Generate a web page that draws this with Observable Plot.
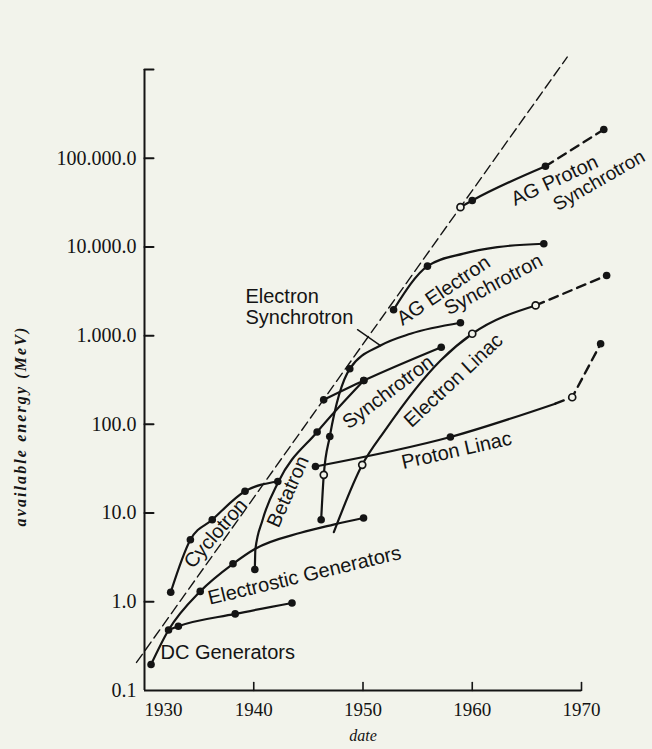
<!DOCTYPE html>
<html><head><meta charset="utf-8">
<script src="https://cdn.jsdelivr.net/npm/d3@7"></script>
<script src="https://cdn.jsdelivr.net/npm/@observablehq/plot@0.6"></script>
<style>
html,body{margin:0;padding:0;background:#f2f3eb;}
</style></head><body><div id="chart"></div>
<script>
// ---- axis ticks ----
const yTickValues = [0.1, 1, 10, 100, 1000, 10000, 100000];
const yTickLabels = ["0.1", "1.0", "10.0", "100.0", "1.000.0", "10.000.0", "100.000.0"];
const xTickValues = [1930, 1940, 1950, 1960, 1970];
const xTickLabels = ["1930", "1940", "1950", "1960", "1970"];

// ---- series (year, MeV, marker) ----
const dcYears = [1932.2, 1933.1, 1938.3, 1943.5];
const dcValues = [0.48, 0.53, 0.73, 0.97];
const dcMarks = ["", "dot", "dot", "dot"];

const esYears = [1930.6, 1932.2, 1935.1, 1938.1, 1940.1, 1944.3, 1947.3, 1950.05];
const esValues = [0.196, 0.48, 1.31, 2.68, 3.94, 6.0, 7.4, 8.8];
const esMarks = ["dot", "dot", "dot", "dot", "", "", "", "dot"];

const cycYears = [1932.4, 1934.2, 1936.2, 1939.2, 1942.2];
const cycValues = [1.28, 5.0, 8.4, 17.6, 22.7];
const cycMarks = ["dot", "dot", "dot", "dot", "dot"];

const betYears = [1940.1, 1940.15, 1940.8, 1942.25, 1945.8, 1950.07];
const betValues = [2.31, 3.9, 8.3, 22.4, 82, 312];
const betMarks = ["dot", "", "", "", "dot", "dot"];

const synYears = [1946.4, 1950.07, 1957.16];
const synValues = [189, 312, 741];
const synMarks = ["dot", "dot", "dot"];

const esyYears = [1946.17, 1946.41, 1946.96, 1948.79, 1951.6, 1954.35, 1958.92];
const esyValues = [8.4, 27, 73, 423, 774, 1050, 1396];
const esyMarks = ["dot", "open", "dot", "dot", "", "", "dot"];

const plYears = [1945.65, 1958.0, 1967.6];
const plValues = [33.5, 72, 171];
const plMarks = ["dot", "dot", ""];
const plDashYears = [1967.6, 1969.15, 1971.75];
const plDashValues = [171, 202, 809];
const plDashMarks = ["", "open", "dot"];

const elYears = [1947.33, 1949.93, 1952.0, 1957.1, 1960.0, 1965.8];
const elValues = [6.1, 35, 85, 525, 1050, 2190];
const elMarks = ["", "open", "", "", "open", "open"];
const elDashYears = [1965.8, 1972.3];
const elDashValues = [2190, 4770];
const elDashMarks = ["", "dot"];

const ageYears = [1952.8, 1955.9, 1959.2, 1962.3, 1966.55];
const ageValues = [1960, 6070, 8400, 9940, 10860];
const ageMarks = ["dot", "dot", "", "", "dot"];

const agpYears = [1958.92, 1960.0, 1966.7];
const agpValues = [28060, 33400, 81300];
const agpMarks = ["open", "dot", "dot"];
const agpDashYears = [1966.7, 1972.04];
const agpDashValues = [81300, 210800];
const agpDashMarks = ["", "dot"];

const trendYears = [1929.27, 1968.69];
const trendValues = [0.207, 1.38e6];

// ---- annotations ----
const labelTexts = ["Electrostic Generators", "Cyclotron", "Betatron", "Synchrotron",
  "AG Electron", "Synchrotron", "AG Proton", "Synchrotron", "Electron Linac", "Proton Linac"];
const labelYears = [1944.65, 1936.5, 1943.14, 1952.29, 1957.37, 1961.94, 1967.53, 1971.6, 1958.28, 1958.56];
const labelValues = [1.98, 5.89, 17.5, 230.6, 3228, 3774, 56100, 56100, 312.5, 50.8];
const labelAngles = [-13.5, -49, -66, -37, -34, -28, -25, -30, -43, -12.7];
const labelSizes = [20, 20, 20, 20, 20, 20, 20, 19, 20, 20];

const flatLabelTexts = ["DC Generators", "Electron\nSynchrotron"];
const flatLabelYears = [1931.46, 1939.24];
const flatLabelValues = [0.268, 2104];

const leaderYears = [1949.5, 1951.6];
const leaderValues = [1169, 771];

// ---- build tables ----
function rows(name, years, values, marks) {
  return years.map((year, i) => ({series: name, year, value: values[i], marker: marks[i]}));
}
const solid = [
  ...rows("dc", dcYears, dcValues, dcMarks),
  ...rows("es", esYears, esValues, esMarks),
  ...rows("cyc", cycYears, cycValues, cycMarks),
  ...rows("bet", betYears, betValues, betMarks),
  ...rows("syn", synYears, synValues, synMarks),
  ...rows("esy", esyYears, esyValues, esyMarks),
  ...rows("pl", plYears, plValues, plMarks),
  ...rows("el", elYears, elValues, elMarks),
  ...rows("age", ageYears, ageValues, ageMarks),
  ...rows("agp", agpYears, agpValues, agpMarks)
];
const dashed = [
  ...rows("pld", plDashYears, plDashValues, plDashMarks),
  ...rows("eld", elDashYears, elDashValues, elDashMarks),
  ...rows("agpd", agpDashYears, agpDashValues, agpDashMarks)
];
const allPts = [...solid, ...dashed];
const trend = trendYears.map((year, i) => ({year, value: trendValues[i]}));
const labels = labelTexts.map((t, i) => ({t, year: labelYears[i], value: labelValues[i], a: labelAngles[i], s: labelSizes[i]}));
const flatLabels = flatLabelTexts.map((t, i) => ({t, year: flatLabelYears[i], value: flatLabelValues[i]}));
const leader = leaderYears.map((year, i) => ({year, value: leaderValues[i]}));

const ink = "#141414";
const bg = "#f2f3eb";
const serif = "'Liberation Serif', 'Times New Roman', serif";
const sans = "'Liberation Sans', Arial, sans-serif";
const tickShape = {draw(context, l) { context.moveTo(0, 0); context.lineTo(0, -l); }};

const chart = Plot.plot({
  width: 652, height: 749,
  marginLeft: 144, marginRight: 71, marginTop: 69, marginBottom: 59,
  x: {domain: [1930, 1970], axis: null},
  y: {type: "log", domain: [0.1, 1e6], axis: null},
  style: {background: bg, color: ink, fontFamily: serif, overflow: "visible"},
  marks: [
    Plot.line(trend, {x: "year", y: "value", stroke: ink, strokeWidth: 1.4, strokeDasharray: "10,5"}),
    Plot.ruleX([1930], {y1: 0.1, y2: 1e6, stroke: ink, strokeWidth: 2}),
    Plot.ruleY([0.1], {x1: 1930, x2: 1970, stroke: ink, strokeWidth: 2}),
    Plot.vector(yTickValues.filter(v => v > 0.1).concat([1e6]), {x: 1930, y: d => d, length: 9, rotate: 90, anchor: "start", shape: tickShape, stroke: ink, strokeWidth: 2}),
    Plot.vector(xTickValues.slice(1), {x: d => d, y: 0.1, length: 8, rotate: 0, anchor: "start", shape: tickShape, stroke: ink, strokeWidth: 1.6}),
    Plot.line(solid, {x: "year", y: "value", z: "series", curve: "monotone-x", stroke: ink, strokeWidth: 2.2}),
    Plot.line(dashed, {x: "year", y: "value", z: "series", stroke: ink, strokeWidth: 2.4, strokeDasharray: "9,6"}),
    Plot.line(leader, {x: "year", y: "value", stroke: ink, strokeWidth: 1.4}),
    Plot.dot(allPts.filter(d => d.marker === "dot"), {x: "year", y: "value", r: 3.8, fill: ink}),
    Plot.dot(allPts.filter(d => d.marker === "open"), {x: "year", y: "value", r: 3.5, fill: bg, stroke: ink, strokeWidth: 1.7}),
    Plot.text(labels, {x: "year", y: "value", text: "t", rotate: "a", fontSize: "s", fontFamily: sans, fill: ink}),
    Plot.text(flatLabels, {x: "year", y: "value", text: "t", textAnchor: "start", lineHeight: 1.05, fontSize: 20, fontFamily: sans, fill: ink}),
    Plot.text(yTickValues, {x: 1930, y: d => d, text: (d, i) => yTickLabels[i], textAnchor: "end", dx: -8, fontSize: 20, fontFamily: serif, fill: ink}),
    Plot.text(xTickValues.slice(1), {x: d => d, y: 0.1, text: (d, i) => xTickLabels[i + 1], dy: 19, fontSize: 19, fontFamily: serif, fill: ink}),
    Plot.text(xTickValues.slice(0, 1), {x: d => d, y: 0.1, text: (d, i) => xTickLabels[i], dy: 19, dx: 19, fontSize: 19, fontFamily: serif, fill: ink}),
    Plot.text(["date"], {frameAnchor: "bottom", textAnchor: "middle", dy: 50, fontSize: 16, fontStyle: "italic", fontFamily: serif, fill: ink}),
    Plot.text(["available energy (MeV)"], {frameAnchor: "left", textAnchor: "middle", dx: -124, dy: 46, rotate: -90, fontSize: 16, fontStyle: "italic", fontWeight: "bold", fontFamily: serif, fill: ink})
  ]
});
document.getElementById("chart").appendChild(chart);
chart.querySelectorAll("text").forEach(t => {
  if (t.textContent === "available energy (MeV)") t.setAttribute("letter-spacing", "2.1");
});
</script></body></html>
